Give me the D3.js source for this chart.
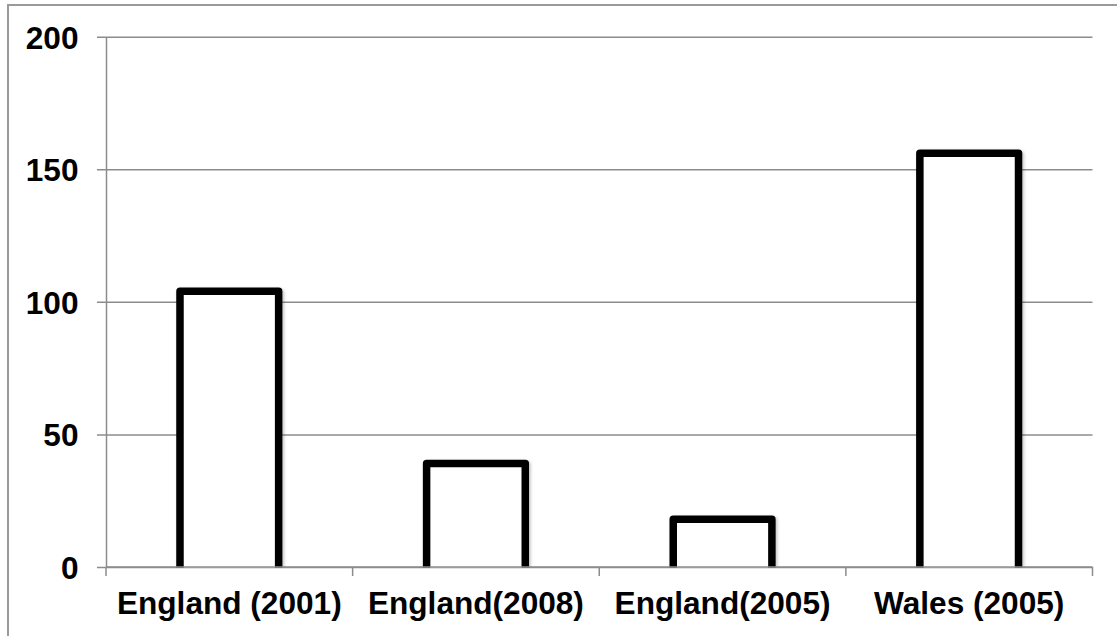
<!DOCTYPE html>
<html>
<head>
<meta charset="utf-8">
<script src="https://cdn.jsdelivr.net/npm/d3@7"></script>
<style>
  html, body { margin: 0; padding: 0; background: #fff; }
  svg { display: block; }
  text { font-family: "Liberation Sans", Arial, sans-serif; font-weight: bold; fill: #000; }
</style>
</head>
<body>
<svg id="chart" width="1117" height="636"></svg>
<script>
// Values per region / survey year
const categories = ["England (2001)", "England(2008)", "England(2005)", "Wales (2005)"];
const values = [104, 39, 18, 156];
const yTicks = [0, 50, 100, 150, 200];

const W = 1117, H = 636;
const margin = { left: 106, right: 24.5, top: 36.7, bottom: 69 };
const FONT = 31.6;

const svg = d3.select("#chart");

// Shadow for the bar outlines
const defs = svg.append("defs");
const f = defs.append("filter").attr("id", "soft").attr("x", "-10%").attr("y", "-10%").attr("width", "130%").attr("height", "130%");
f.append("feDropShadow").attr("dx", 1.5).attr("dy", 1.5).attr("stdDeviation", 1.5)
  .attr("flood-color", "#000").attr("flood-opacity", 0.25);

// Outer chart-area frame
svg.append("rect")
  .attr("x", 8).attr("y", 5)
  .attr("width", W + 20).attr("height", H + 20)
  .attr("fill", "none").attr("stroke", "#9a9a9a").attr("stroke-width", 2);

const x = d3.scaleBand()
  .domain(categories)
  .range([margin.left, W - margin.right])
  .paddingInner(0.6).paddingOuter(0.3);

const xCat = d3.scaleBand()
  .domain(categories)
  .range([margin.left, W - margin.right]);

const y = d3.scaleLinear()
  .domain([0, 200])
  .range([H - margin.bottom, margin.top]);

defs.append("clipPath").attr("id", "plotClip")
  .append("rect")
  .attr("x", 0).attr("y", 0)
  .attr("width", W).attr("height", y(0) + 0.5);

// Horizontal gridlines with tick stubs, and y labels
const yAxis = d3.axisLeft(y)
  .tickValues(yTicks)
  .tickSize(-(W - margin.right - margin.left))
  .tickPadding(19)
  .tickSizeOuter(0);

const gy = svg.append("g")
  .attr("transform", `translate(${margin.left},0)`)
  .call(yAxis);
gy.select(".domain").attr("stroke", "#8c8c8c").attr("stroke-width", 1.5);
gy.selectAll(".tick line")
  .attr("x1", -9)
  .attr("stroke", "#8c8c8c").attr("stroke-width", 1.5);
gy.selectAll(".tick text")
  .attr("font-size", FONT)
  .attr("x", -27.5)
  .attr("dy", "0.36em");

// Bars: white fill, heavy black outline
svg.append("g")
  .attr("clip-path", "url(#plotClip)")
  .selectAll("rect")
  .data(categories)
  .join("rect")
  .attr("x", d => x(d))
  .attr("width", x.bandwidth())
  .attr("y", (d, i) => y(values[i]))
  .attr("height", (d, i) => y(0) - y(values[i]) + 6)
  .attr("fill", "#fff")
  .attr("stroke", "#000")
  .attr("stroke-width", 7.5)
  .attr("stroke-linejoin", "round")
  .attr("filter", "url(#soft)");

// Category axis with boundary ticks
const gx = svg.append("g")
  .attr("transform", `translate(0,${y(0)})`);
gx.append("line")
  .attr("x1", margin.left).attr("x2", W - margin.right)
  .attr("stroke", "#8c8c8c").attr("stroke-width", 1.5);
const bounds = categories.map(c => xCat(c)).concat([xCat(categories[categories.length - 1]) + xCat.bandwidth()]);
gx.selectAll("line.tk")
  .data(bounds)
  .join("line")
  .attr("class", "tk")
  .attr("x1", d => d).attr("x2", d => d)
  .attr("y1", 0).attr("y2", 9)
  .attr("stroke", "#8c8c8c").attr("stroke-width", 1.5);
gx.selectAll("text")
  .data(categories)
  .join("text")
  .attr("x", d => xCat(d) + xCat.bandwidth() / 2)
  .attr("y", 47)
  .attr("text-anchor", "middle")
  .attr("font-size", FONT)
  .text(d => d);
</script>
</body>
</html>
